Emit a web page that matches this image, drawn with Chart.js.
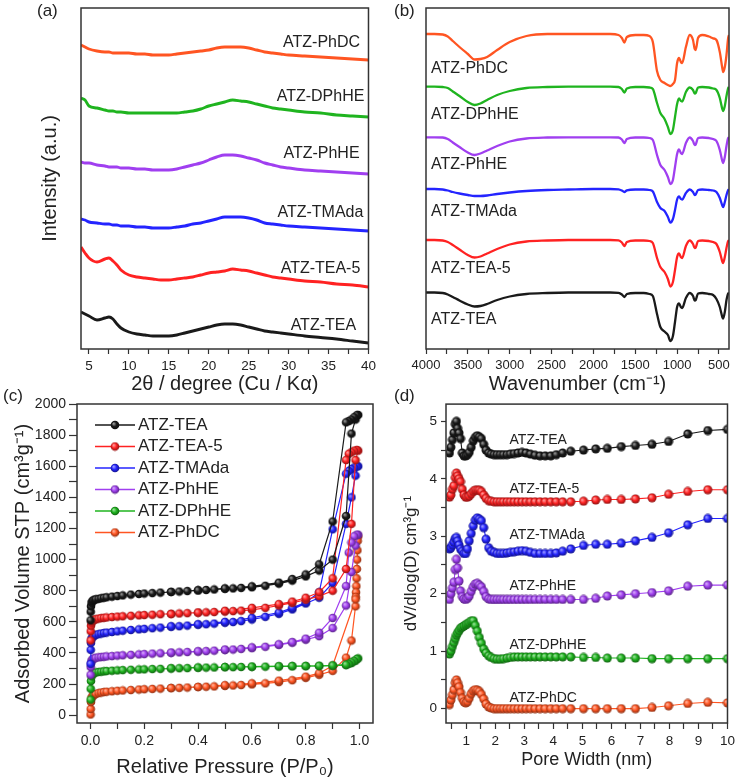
<!DOCTYPE html>
<html>
<head>
<meta charset="utf-8">
<title>ATZ characterisation</title>
<script src="https://cdn.jsdelivr.net/npm/chart.js@4.4.1/dist/chart.umd.min.js"></script>
<style>
  html, body { margin: 0; background: #fff; }
  body { position: relative; width: 739px; height: 783px; overflow: hidden; font-family: 'Liberation Sans', Arial, sans-serif; color: #222; }
  .panel { position: absolute; }
  .tag { position: absolute; font-size: 17px; line-height: 1; }
</style>
</head>
<body>
<div class="panel" style="left:0;top:0;width:380px;height:400px"><canvas id="xrd"></canvas></div>
<div class="panel" style="left:380px;top:0;width:359px;height:400px"><canvas id="ftir"></canvas></div>
<div class="panel" style="left:0;top:392px;width:380px;height:391px"><canvas id="iso"></canvas></div>
<div class="panel" style="left:380px;top:392px;width:359px;height:391px"><canvas id="psd"></canvas></div>
<div class="tag" style="left:37px;top:2px">(a)</div>
<div class="tag" style="left:394px;top:2px">(b)</div>
<div class="tag" style="left:3px;top:387px">(c)</div>
<div class="tag" style="left:394px;top:387px">(d)</div>
<script>
// samples, same order everywhere
const samples = ['ATZ-TEA', 'ATZ-TEA-5', 'ATZ-TMAda', 'ATZ-PhHE', 'ATZ-DPhHE', 'ATZ-PhDC'];
const colors = ['#1a1a1a', '#ff2222', '#2424ff', '#a03ff0', '#1fb41f', '#ff5522'];

// (a) XRD, stacked intensity (a.u.)
const twoTheta = [4, 4.5, 5, 6, 7, 7.5, 8, 8.5, 9, 10, 11, 12, 13, 14, 15, 16, 17, 18, 19, 20, 21, 22, 23, 24, 25, 26, 27, 28, 29, 30, 32, 34, 36, 38, 40];
const xrdTEA   = [37, 35, 33, 29, 31, 32, 30, 25, 21, 17, 15, 14, 13, 13, 13, 14, 16, 18, 20, 22, 24, 25, 25, 24, 22, 20, 18, 17, 16, 15, 13, 11.5, 10, 8, 6];
const xrdTEA5  = [102, 96, 91, 87, 90, 91, 88, 84, 79, 74, 72, 71, 70, 69, 69, 70, 71, 72, 74, 76, 77, 78, 80, 79, 78, 76, 74, 72, 71, 70, 68, 67, 65, 64, 62];
const xrdTMAda = [130, 129, 127, 126, 125, 125, 124, 124, 123, 123, 122, 122, 121, 121, 121, 122, 123, 125, 126, 128, 130, 132, 132, 132, 131, 129, 126, 125, 124, 123, 122, 121, 120, 119, 118];
const xrdPhHE  = [187, 186, 186, 184, 183, 182, 182, 182, 181, 181, 180, 180, 179, 179, 179, 180, 182, 184, 186, 189, 192, 194, 194, 193, 191, 189, 186, 184, 182, 181, 179, 178, 177, 176, 175];
const xrdDPhHE = [251, 249, 243, 241, 239, 238, 238, 237, 237, 236, 236, 236, 236, 236, 236, 236, 237, 238, 240, 243, 245, 247, 249, 248, 247, 245, 243, 241, 240, 239, 237, 236, 234, 233, 232];
const xrdPhDC  = [304, 302, 300, 298, 297, 297, 296, 296, 296, 296, 295, 295, 294, 294, 294, 295, 296, 297, 298, 299, 301, 302, 302, 302, 301, 299, 297, 296, 295, 294, 293, 292, 291, 290, 289];
const xrdTicks = [5, 7.5, 10, 12.5, 15, 17.5, 20, 22.5, 25, 27.5, 30, 32.5, 35, 37.5, 40];
const xrdLabelX = [30.25, 29.0, 28.6, 29.35, 28.5, 29.3];
const xrdLabelY = [23, 80.7, 136.7, 195, 252.3, 306.3];

// (b) FTIR, stacked transmittance (a.u.)
const wavenumber = [4000, 3900, 3800, 3740, 3680, 3600, 3500, 3420, 3350, 3270, 3150, 3000, 2800, 2550, 2300, 2000, 1800, 1700, 1660, 1630, 1600, 1500, 1400, 1330, 1290, 1240, 1200, 1150, 1110, 1080, 1050, 1025, 1000, 977, 955, 940, 895, 850, 810, 790, 778, 750, 700, 620, 570, 530, 490, 460, 450, 430, 410, 390, 380];
const irTEA   = [56.5, 56.5, 56, 54.5, 52, 48.5, 44.5, 42.5, 43, 45, 49, 52.5, 55, 56, 56.5, 56.5, 56.5, 56.2, 54.5, 52, 55, 56, 56, 55, 53, 35, 22, 17.5, 14, 8, 13, 27, 42, 45.5, 42, 41, 51, 56, 53, 48.5, 49, 55.5, 56, 55, 54, 50, 42, 32, 30.5, 37, 49, 55.5, 56];
const irTEA5  = [109, 109, 108.5, 107, 104, 99.5, 94, 91.5, 92.5, 95.5, 100, 104.5, 107.5, 108.5, 109, 109, 109, 108.7, 106.5, 103, 107, 108.5, 108.5, 108, 106, 91, 82, 77, 70, 62.5, 67, 79, 92, 95.5, 92, 91, 103, 108.5, 105, 101, 101.5, 108, 108.5, 108, 107, 105, 97, 87.5, 86, 92, 101, 108, 108.5];
const irTMAda = [160, 160, 159.5, 158.5, 157, 155.5, 154, 153, 153, 153.5, 155, 156.5, 158, 159, 159.5, 160, 160, 159.7, 158.5, 157, 158.7, 159.5, 159.5, 159, 157.5, 147, 141, 138, 132, 126.5, 130, 139, 149.5, 152.5, 150, 149.5, 156, 159.5, 157, 154, 154.5, 159, 159.5, 159, 158.5, 157, 151, 143.5, 142, 147, 154, 159, 159.5];
const irPhHE  = [211.7, 211.7, 211.5, 210, 206.5, 202, 196.5, 194, 195.5, 198.5, 203, 207.5, 210.5, 211.5, 211.7, 211.7, 211.7, 211.5, 209.5, 206, 210, 211.5, 211.5, 211, 209, 194, 184, 179, 172, 165, 169, 182, 195, 199.5, 196, 195, 206, 211.5, 208, 204, 204.5, 211, 211.5, 211, 210, 208, 199, 188, 186, 192, 203, 211, 211.5];
const irDPhHE = [262.3, 262.3, 262, 261, 257.5, 253, 247, 244, 245.5, 249, 254, 258, 261, 262, 262.3, 262.3, 262.3, 262, 260, 256.5, 260.5, 262, 262, 261.5, 260, 246, 236, 230, 222, 215, 219, 232, 245, 250.5, 248, 247.5, 257, 261.5, 259, 255.5, 256, 261.5, 262, 261.5, 260.5, 259, 251, 240, 238, 243, 253, 261, 262];
const irPhDC  = [315, 315, 314.5, 312.5, 308, 302, 295, 289.5, 290, 292, 299, 307, 313, 315, 315, 315, 315, 314, 311, 306.5, 312, 314, 314, 313, 307, 278, 269, 266, 264, 263, 265, 269, 286, 291, 287, 286, 302, 314, 309, 300, 299, 311, 314, 312.5, 310.7, 309, 297, 281, 277, 282, 294, 311, 314];
const irTicks = [4000, 3750, 3500, 3250, 3000, 2750, 2500, 2250, 2000, 1750, 1500, 1250, 1000, 750, 500];
const irLabelX = 3940;
const irLabelY = [29, 80.7, 137.3, 184, 234, 280.7];

// (c) N2 isotherms, adsorption then desorption
const pAds = [0.0005, 0.001, 0.002, 0.004, 0.007, 0.01, 0.015, 0.02, 0.03, 0.04, 0.05, 0.06, 0.08, 0.1, 0.12, 0.15, 0.18, 0.2, 0.23, 0.26, 0.3, 0.33, 0.36, 0.4, 0.43, 0.46, 0.5, 0.53, 0.56, 0.6, 0.65, 0.7, 0.75, 0.8, 0.85, 0.9, 0.95, 0.97, 0.985, 0.995];
const pDes = [0.99, 0.98, 0.97, 0.96, 0.95, 0.9, 0.85, 0.8, 0.75, 0.7, 0.6, 0.5, 0.4, 0.3];
const adsTEA   = [610, 665, 700, 722, 733, 738, 742, 745, 748, 752, 755, 758, 762, 766, 770, 775, 779, 782, 785, 788, 792, 795, 798, 802, 805, 808, 812, 815, 818, 822, 832, 846, 865, 892, 930, 1000, 1280, 1810, 1900, 1930];
const desTEA   = [1928, 1915, 1900, 1890, 1882, 1245, 970, 905, 875, 852, 828, 815, 803, 793];
const adsTEA5  = [480, 540, 575, 595, 605, 610, 614, 617, 621, 624, 626, 628, 631, 634, 636, 639, 642, 644, 646, 649, 652, 654, 656, 659, 661, 663, 666, 669, 672, 677, 690, 705, 722, 742, 765, 800, 940, 1230, 1640, 1700];
const desTEA5  = [1705, 1700, 1690, 1680, 1640, 880, 790, 755, 730, 714, 690, 671, 660, 650];
const adsTMAda = [330, 420, 465, 490, 502, 508, 513, 517, 521, 525, 528, 531, 535, 539, 543, 548, 552, 555, 559, 563, 568, 572, 576, 581, 585, 589, 594, 599, 605, 615, 632, 652, 680, 718, 755, 850, 1230, 1400, 1540, 1600];
const desTMAda = [1598, 1592, 1582, 1570, 1552, 1195, 790, 725, 690, 660, 626, 600, 585, 572];
const adsPhHE  = [260, 310, 335, 350, 358, 362, 366, 369, 372, 374, 376, 378, 380, 383, 385, 388, 391, 393, 396, 398, 401, 404, 406, 409, 412, 415, 419, 422, 426, 431, 440, 452, 466, 485, 508, 560, 705, 920, 1090, 1160];
const desPhHE  = [1160, 1150, 1110, 1045, 830, 625, 530, 492, 470, 456, 436, 422, 411, 403];
const adsDPhHE = [100, 170, 220, 250, 262, 268, 272, 275, 278, 280, 282, 284, 286, 288, 290, 292, 294, 295, 297, 298, 300, 302, 303, 305, 306, 307, 308, 309, 310, 311, 312, 313, 314, 315, 316, 318, 322, 335, 350, 365];
const desDPhHE = [362, 350, 340, 330, 325, 320, 318, 317, 316, 315, 313, 310, 307, 302];
const adsPhDC  = [5, 40, 85, 110, 122, 128, 133, 137, 142, 146, 149, 151, 154, 157, 159, 162, 165, 167, 169, 171, 174, 176, 178, 181, 183, 185, 188, 191, 194, 198, 205, 213, 225, 240, 260, 285, 370, 480, 700, 1150];
const pDesPhDC = [0.993, 0.992, 0.991, 0.99, 0.989, 0.988, 0.987, 0.986, 0.985, 0.9, 0.85, 0.8, 0.7, 0.6, 0.5, 0.4, 0.3];
const desPhDC  = [1120, 1060, 1000, 940, 880, 830, 790, 760, 745, 318, 270, 248, 222, 205, 193, 182, 175];
const isoXTicks = [0, 0.1, 0.2, 0.3, 0.4, 0.5, 0.6, 0.7, 0.8, 0.9, 1.0];
const isoYTicks = [0, 100, 200, 300, 400, 500, 600, 700, 800, 900, 1000, 1100, 1200, 1300, 1400, 1500, 1600, 1700, 1800, 1900, 2000];

// (d) pore size distribution, stacked
const poreWidth = [0.42, 0.47, 0.52, 0.57, 0.62, 0.66, 0.7, 0.75, 0.8, 0.86, 0.92, 0.98, 1.04, 1.1, 1.17, 1.24, 1.31, 1.38, 1.45, 1.52, 1.6, 1.68, 1.77, 1.86, 1.96, 2.06, 2.17, 2.28, 2.4, 2.52, 2.65, 2.78, 2.92, 3.06, 3.21, 3.37, 3.54, 3.72, 3.91, 4.1, 4.32, 4.6, 5.04, 5.46, 5.86, 6.34, 6.83, 7.4, 7.97, 8.63, 9.32, 10.0];
const psdTEA   = [4.45, 4.55, 4.68, 4.8, 4.95, 5.0, 4.88, 4.8, 4.7, 4.45, 4.4, 4.4, 4.42, 4.46, 4.55, 4.66, 4.72, 4.75, 4.73, 4.7, 4.6, 4.5, 4.45, 4.43, 4.42, 4.42, 4.42, 4.42, 4.42, 4.43, 4.44, 4.45, 4.46, 4.45, 4.43, 4.41, 4.4, 4.4, 4.4, 4.42, 4.45, 4.48, 4.5, 4.52, 4.53, 4.56, 4.58, 4.6, 4.65, 4.78, 4.84, 4.86];
const psdTEA5  = [3.68, 3.72, 3.82, 3.88, 4.02, 4.1, 4.05, 4.0, 3.95, 3.82, 3.72, 3.68, 3.68, 3.7, 3.74, 3.78, 3.8, 3.8, 3.8, 3.78, 3.72, 3.66, 3.62, 3.61, 3.6, 3.6, 3.6, 3.6, 3.6, 3.6, 3.6, 3.6, 3.6, 3.6, 3.6, 3.6, 3.6, 3.6, 3.6, 3.6, 3.6, 3.6, 3.61, 3.63, 3.64, 3.64, 3.65, 3.67, 3.73, 3.78, 3.81, 3.81];
const psdTMAda = [2.78, 2.8, 2.85, 2.9, 2.96, 2.98, 2.92, 2.85, 2.78, 2.74, 2.7, 2.7, 2.78, 2.92, 3.05, 3.18, 3.28, 3.32, 3.3, 3.27, 3.15, 2.95, 2.8, 2.74, 2.72, 2.7, 2.7, 2.7, 2.71, 2.72, 2.73, 2.74, 2.75, 2.74, 2.72, 2.7, 2.7, 2.7, 2.7, 2.71, 2.74, 2.78, 2.84, 2.86, 2.86, 2.88, 2.92, 2.98, 3.06, 3.2, 3.31, 3.31];
const psdPhHE  = [1.9, 2.0, 2.1, 2.2, 2.42, 2.6, 2.45, 2.22, 2.05, 1.95, 1.91, 1.9, 1.92, 1.96, 2.04, 2.12, 2.17, 2.18, 2.15, 2.12, 2.04, 1.95, 1.91, 1.9, 1.9, 1.9, 1.9, 1.9, 1.9, 1.9, 1.9, 1.9, 1.9, 1.9, 1.9, 1.9, 1.9, 1.9, 1.9, 1.9, 1.9, 1.9, 1.9, 1.92, 1.96, 1.98, 2.0, 2.02, 2.05, 2.13, 2.15, 2.15];
const psdDPhHE = [0.95, 1.0, 1.08, 1.15, 1.22, 1.28, 1.32, 1.36, 1.4, 1.42, 1.44, 1.46, 1.48, 1.5, 1.52, 1.53, 1.45, 1.35, 1.24, 1.14, 1.04, 0.97, 0.92, 0.89, 0.87, 0.86, 0.86, 0.87, 0.88, 0.89, 0.9, 0.9, 0.9, 0.9, 0.9, 0.9, 0.9, 0.9, 0.9, 0.9, 0.9, 0.9, 0.89, 0.89, 0.88, 0.88, 0.88, 0.87, 0.87, 0.87, 0.87, 0.87];
const psdPhDC  = [0.07, 0.15, 0.24, 0.33, 0.45, 0.5, 0.45, 0.38, 0.28, 0.18, 0.12, 0.1, 0.12, 0.18, 0.26, 0.31, 0.33, 0.32, 0.3, 0.25, 0.17, 0.08, 0.03, 0.01, 0, 0, 0, 0, 0, 0, 0, 0, 0, 0, 0, 0, 0, 0, 0, 0, 0, 0, 0, 0, 0, 0, 0, 0.02, 0.05, 0.09, 0.11, 0.1];
const psdXTicks = [0.5, 1, 1.5, 2, 2.5, 3, 3.5, 4, 4.5, 5, 5.5, 6, 6.5, 7, 7.5, 8, 8.5, 9, 9.5, 10];
const psdYTicks = [0, 0.5, 1, 1.5, 2, 2.5, 3, 3.5, 4, 4.5, 5];
const psdLabelX = 2.49;
const psdLabelY = [4.67, 3.82, 3.02, 2.13, 1.11, 0.18];

const FONT = "'Liberation Sans', Arial, sans-serif";
const INK = '#222';
Chart.defaults.font.family = FONT;
Chart.defaults.color = INK;

const pairs = (xs, ys) => xs.map((x, i) => ({ x, y: ys[i] }));

function shade(hex, target, t) {
  const a = parseInt(hex.slice(1), 16), b = parseInt(target.slice(1), 16);
  const ch = s => Math.round(((a >> s) & 255) * (1 - t) + ((b >> s) & 255) * t);
  return `rgb(${ch(16)},${ch(8)},${ch(0)})`;
}

// shaded sphere used as marker
function ball(color, r) {
  const c = document.createElement('canvas');
  const s = Math.ceil(r * 2 + 1);
  c.width = s; c.height = s;
  const g = c.getContext('2d');
  const m = s / 2;
  const grad = g.createRadialGradient(m - r * 0.35, m - r * 0.35, r * 0.1, m, m, r);
  grad.addColorStop(0, shade(color, '#ffffff', 0.55));
  grad.addColorStop(0.5, color);
  grad.addColorStop(1, shade(color, '#000000', 0.45));
  g.fillStyle = grad;
  g.beginPath(); g.arc(m, m, r, 0, Math.PI * 2); g.fill();
  return c;
}

const frame = {
  id: 'frame',
  afterDraw(chart) {
    const { ctx, chartArea: a } = chart;
    ctx.save();
    ctx.strokeStyle = '#333';
    ctx.lineWidth = 1.5;
    ctx.strokeRect(a.left, a.top, a.right - a.left, a.bottom - a.top);
    ctx.restore();
  }
};

const curveLabels = {
  id: 'curveLabels',
  afterDatasetsDraw(chart, args, opts) {
    if (!opts.xs) return;
    const { ctx, scales: { x, y } } = chart;
    ctx.save();
    ctx.font = opts.size + 'px ' + FONT;
    ctx.fillStyle = INK;
    ctx.textAlign = 'left';
    ctx.textBaseline = 'middle';
    samples.forEach((s, i) => ctx.fillText(s, x.getPixelForValue(opts.xs[i]), y.getPixelForValue(opts.ys[i])));
    ctx.restore();
  }
};

const ballLegend = {
  id: 'ballLegend',
  afterDraw(chart, args, opts) {
    if (!opts.top) return;
    const { ctx } = chart;
    ctx.save();
    ctx.font = '17px ' + FONT;
    ctx.textBaseline = 'middle';
    chart.data.datasets.forEach((ds, i) => {
      const y = opts.top + i * opts.row;
      ctx.strokeStyle = ds.borderColor;
      ctx.lineWidth = 1.3;
      ctx.beginPath(); ctx.moveTo(opts.left, y); ctx.lineTo(opts.left + 40, y); ctx.stroke();
      const img = ds.pointStyle;
      ctx.drawImage(img, opts.left + 20 - img.width / 2, y - img.height / 2);
      ctx.fillStyle = INK;
      ctx.fillText(ds.label, opts.left + 43, y);
    });
    ctx.restore();
  }
};

function axis(o) {
  return {
    type: 'linear', min: o.min, max: o.max, reverse: !!o.reverse,
    afterFit: s => { if (s.isHorizontal()) s.height = o.size; else s.width = o.size; },
    afterBuildTicks: o.ticks ? s => { s.ticks = o.ticks.map(value => ({ value })); } : undefined,
    grid: { display: !!o.ticks, drawOnChartArea: false, tickLength: o.tick || 5, tickColor: '#333', tickWidth: 1.2 },
    border: { display: false },
    ticks: { display: !!o.ticks, autoSkip: false, maxRotation: 0, padding: o.pad || 4, color: INK, font: { size: o.fs || 13.5 }, callback: o.label },
    title: o.title ? { display: true, text: o.title, color: INK, font: { size: o.ts || 20 }, padding: o.tp } : { display: false }
  };
}

function options(top, right, x, y, plugins) {
  return {
    responsive: true, maintainAspectRatio: false, animation: false, events: [], devicePixelRatio: 1,
    layout: { padding: { left: 0, bottom: 0, top, right }, autoPadding: false },
    plugins: Object.assign({ legend: { display: false }, tooltip: { enabled: false } }, plugins),
    scales: { x, y }
  };
}

// (a)
const xrdSets = [xrdTEA, xrdTEA5, xrdTMAda, xrdPhHE, xrdDPhHE, xrdPhDC];
new Chart(document.getElementById('xrd'), {
  type: 'line',
  data: { datasets: xrdSets.map((d, i) => ({ label: samples[i], data: pairs(twoTheta, d), borderColor: colors[i], borderWidth: 2.9, pointRadius: 0, cubicInterpolationMode: 'monotone' })) },
  options: options(8, 4,
    axis({ min: 4, max: 40, size: 51, ticks: xrdTicks, label: v => v % 5 === 0 ? String(v) : '', title: '2θ / degree (Cu / Kα)', tp: { top: 0, bottom: 4 } }),
    axis({ min: 0, max: 341, size: 81, title: 'Intensity (a.u.)', tp: { top: 38, bottom: 0 } }),
    { curveLabels: { xs: xrdLabelX, ys: xrdLabelY, size: 16 } }),
  plugins: [frame, curveLabels]
});

// (b)
const irSets = [irTEA, irTEA5, irTMAda, irPhHE, irDPhHE, irPhDC];
new Chart(document.getElementById('ftir'), {
  type: 'line',
  data: { datasets: irSets.map((d, i) => ({ label: samples[i], data: pairs(wavenumber, d), borderColor: colors[i], borderWidth: 2.3, pointRadius: 0, cubicInterpolationMode: 'monotone' })) },
  options: options(8, 10,
    axis({ min: 380, max: 4000, reverse: true, size: 51, ticks: irTicks, fs: 13, label: v => v % 500 === 0 ? String(v) : '', title: 'Wavenumber (cm⁻¹)', tp: { top: 0, bottom: 4 } }),
    axis({ min: 0, max: 341, size: 46 }),
    { curveLabels: { xs: samples.map(() => irLabelX), ys: irLabelY, size: 16 } }),
  plugins: [frame, curveLabels]
});

// (c)
const adsSets = [adsTEA, adsTEA5, adsTMAda, adsPhHE, adsDPhHE, adsPhDC];
const desSets = [desTEA, desTEA5, desTMAda, desPhHE, desDPhHE, desPhDC];
const desPressures = [pDes, pDes, pDes, pDes, pDes, pDesPhDC];
new Chart(document.getElementById('iso'), {
  type: 'line',
  data: { datasets: adsSets.map((d, i) => ({
    label: samples[i],
    data: pairs(pAds, d).concat(pairs(desPressures[i], desSets[i])),
    borderColor: colors[i], borderWidth: 1.2, tension: 0,
    pointStyle: ball(colors[i], 4.3), pointRadius: 4.3
  })) },
  options: options(12, 7,
    axis({ min: -0.05, max: 1.05, size: 60, ticks: isoXTicks, tick: 6, pad: 4, fs: 14, label: v => Math.round(v * 10) % 2 === 0 ? v.toFixed(1) : '', title: 'Relative Pressure (P/P₀)', tp: { top: 0, bottom: 4 } }),
    axis({ min: -50, max: 2000, size: 77, ticks: isoYTicks, tick: 8, pad: 3, fs: 14, label: v => v % 200 === 0 ? String(v) : '', title: 'Adsorbed Volume STP (cm³g⁻¹)', tp: { top: 11, bottom: 0 } }),
    { ballLegend: { left: 95, top: 33, row: 21.5 } }),
  plugins: [frame, ballLegend]
});

// (d)
const psdSets = [psdTEA, psdTEA5, psdTMAda, psdPhHE, psdDPhHE, psdPhDC];
new Chart(document.getElementById('psd'), {
  type: 'line',
  data: { datasets: psdSets.map((d, i) => ({
    label: samples[i], data: pairs(poreWidth, d),
    borderColor: colors[i], borderWidth: 1.1, tension: 0,
    pointStyle: ball(colors[i], 4.5), pointRadius: 4.5
  })) },
  options: options(12, 10,
    axis({ min: 0.3, max: 10, size: 60, ticks: psdXTicks, tick: 6, pad: 4, label: v => Number.isInteger(v) ? String(v) : '', title: 'Pore Width (nm)', ts: 18, tp: { top: 0, bottom: 12 } }),
    axis({ min: -0.25, max: 5.3, size: 66, ticks: psdYTicks, tick: 5, pad: 4, label: v => Number.isInteger(v) ? String(v) : '', title: 'dV/dlog(D) cm³g⁻¹', ts: 17, tp: { top: 21, bottom: 0 } }),
    { curveLabels: { xs: samples.map(() => psdLabelX), ys: psdLabelY, size: 14 } }),
  plugins: [frame, curveLabels]
});
</script>
</body>
</html>
